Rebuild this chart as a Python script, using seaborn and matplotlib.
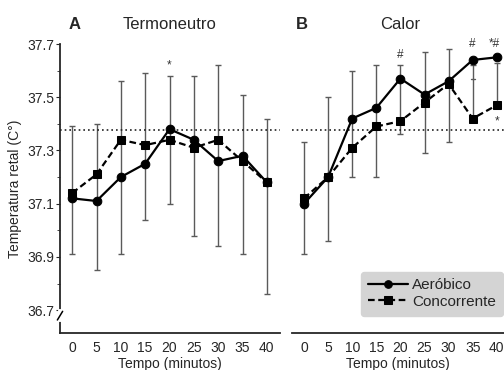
import numpy as np
import pandas as pd
import matplotlib.pyplot as plt
import seaborn as sns

# Valores
tempo = [0, 5, 10, 15, 20, 25, 30, 35, 40]

termo_aer = [37.12, 37.11, 37.20, 37.25, 37.38, 37.34, 37.26, 37.28, 37.18]
termo_conc = [37.14, 37.21, 37.34, 37.32, 37.34, 37.31, 37.34, 37.26, 37.18]
termo_sup = [37.39, 37.40, 37.56, 37.59, 37.58, 37.58, 37.62, 37.51, 37.42]
termo_inf = [36.91, 36.85, 36.91, 37.04, 37.10, 36.98, 36.94, 36.91, 36.76]

calor_aer = [37.10, 37.20, 37.42, 37.46, 37.57, 37.51, 37.56, 37.64, 37.65]
calor_conc = [37.12, 37.20, 37.31, 37.39, 37.41, 37.48, 37.55, 37.42, 37.47]
calor_sup = [37.33, 37.50, 37.60, 37.62, 37.62, 37.67, 37.68, 37.62, 37.63]
calor_inf = [36.91, 36.96, 37.20, 37.20, 37.36, 37.29, 37.33, 37.42, 37.47]

linha_ref = 37.375
grupos = ['Aeróbico', 'Concorrente']

# anotacoes: (painel, tempo, valor, texto)
marcas = [
    ('A', 20, 37.62, '*'),
    ('B', 20, 37.66, '#'),
    ('B', 35, 37.70, '#'),
    ('B', 40, 37.70, '*#'),
    ('B', 40, 37.41, '*'),
]

sns.set_style('ticks')
plt.rcParams['font.family'] = ['Liberation Sans', 'DejaVu Sans']

fig = plt.figure(figsize=(5.04, 3.70), dpi=100)
axA = fig.add_axes([60 / 504, 1 - 333 / 370, 220 / 504, 289 / 370])
axB = fig.add_axes([292 / 504, 1 - 333 / 370, 212 / 504, 289 / 370])

paineis = {
    'A': (axA, termo_aer, termo_conc, termo_sup, termo_inf, 'Termoneutro'),
    'B': (axB, calor_aer, calor_conc, calor_sup, calor_inf, 'Calor'),
}

for nome, (ax, aer, conc, sup, inf, titulo) in paineis.items():
    df = pd.DataFrame({
        'Tempo': tempo * 2,
        'Temp': aer + conc,
        'Grupo': [grupos[0]] * len(tempo) + [grupos[1]] * len(tempo),
    })
    # barras de erro
    sup = np.array(sup)
    inf = np.array(inf)
    mid = (sup + inf) / 2
    ax.errorbar(tempo, mid, yerr=[mid - inf, sup - mid], fmt='none',
                ecolor='#5a5a5a', elinewidth=1.0, capsize=2.2, capthick=1.0,
                zorder=1)
    ax.axhline(linha_ref, color='#222222', ls=(0, (1.0, 1.8)), lw=1.2, zorder=1)
    sns.lineplot(data=df, x='Tempo', y='Temp', style='Grupo', color='black',
                 markers={'Aeróbico': 'o', 'Concorrente': 's'},
                 dashes={'Aeróbico': '', 'Concorrente': (3, 1.6)},
                 markersize=6.2, markeredgecolor='black', lw=1.6,
                 ax=ax, zorder=3, legend=(nome == 'B'))

    ax.set_xlim(-2.5, 42.7 if nome == 'A' else 41.5)
    ax.set_ylim(36.614, 37.7)
    ax.set_xticks(tempo)
    ax.tick_params(axis='x', length=0, labelsize=10, pad=6)
    ax.set_xlabel('Tempo (minutos)', fontsize=10, labelpad=1)
    ax.set_title(titulo, fontsize=12, pad=11, x=0.5 if nome == 'A' else 0.51)
    ax.text(0.04 if nome == 'A' else 0.02, 1.04, nome, transform=ax.transAxes,
            fontsize=12, fontweight='bold', va='bottom')
    for s in ['top', 'right']:
        ax.spines[s].set_visible(False)
    ax.spines['bottom'].set_linewidth(1.3)

# eixo y so no painel A
axA.set_yticks(np.arange(36.7, 37.71, 0.2))
axA.set_yticklabels([f'{v:.1f}' for v in np.arange(36.7, 37.71, 0.2)])
axA.set_yticks(np.arange(36.8, 37.71, 0.2), minor=True)
axA.tick_params(axis='y', which='major', length=3, labelsize=10, pad=1)
axA.tick_params(axis='y', which='minor', length=2)
axA.spines['left'].set_linewidth(1.3)
axA.set_ylabel('Temperatura retal (C°)', fontsize=10, labelpad=4)

axB.spines['left'].set_visible(False)
axB.set_yticks([])
axB.set_ylabel('')

# barra extra (Aerobico 35 min, calor)
axB.plot([35 - 0.45, 35 + 0.45], [37.57, 37.57], color='#5a5a5a', lw=1.0, zorder=1)

# quebra do eixo y
axA.plot([0, 0], [0.045, 0.075], transform=axA.transAxes, color='white',
         lw=3, clip_on=False, zorder=5)
axA.plot([-0.012, 0.0, 0.0, 0.012], [0.045, 0.06, 0.06, 0.075],
         transform=axA.transAxes, color='black', lw=1.1, clip_on=False, zorder=6)

for painel, t, v, txt in marcas:
    ax = paineis[painel][0]
    if txt == '*#':
        ax.text(t + 0.6, v, txt, ha='right', va='center', fontsize=8.5,
                color='#333333', clip_on=False)
    else:
        ax.text(t, v, txt, ha='center', va='center', fontsize=8.5,
                color='#333333', clip_on=False)

leg = axB.legend(loc='lower right', bbox_to_anchor=(0.995, 0.06), fontsize=11,
                 frameon=True, fancybox=True, handlelength=2.6,
                 handletextpad=0.3, borderpad=0.45, labelspacing=0.15,
                 borderaxespad=0.0, title=None)
leg.get_frame().set_facecolor('#d4d4d4')
leg.get_frame().set_edgecolor('#d4d4d4')
leg.get_frame().set_alpha(1)
for h in leg.legend_handles:
    h.set_markersize(5.5)

fig.savefig('out.png', dpi=100)
